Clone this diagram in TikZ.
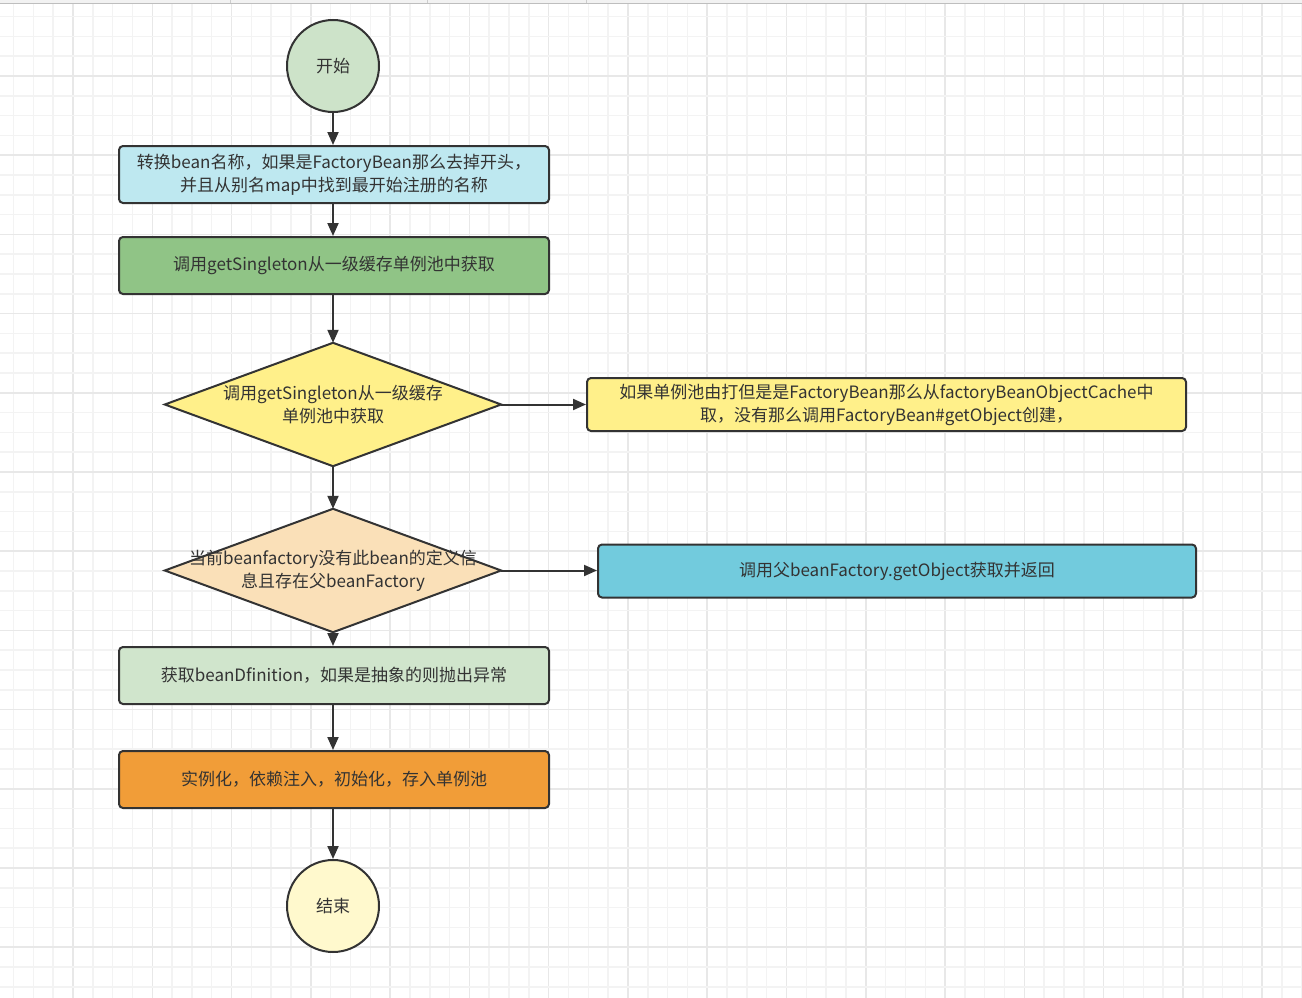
\documentclass[tikz,border=0pt]{standalone}
\usepackage{fontspec}
\setmainfont{Noto Sans CJK SC}
\usetikzlibrary{arrows.meta}
\definecolor{txt}{HTML}{333333}
\definecolor{edge}{HTML}{333333}
\definecolor{gminor}{HTML}{F3F3F3}
\definecolor{gmajor}{HTML}{E8E8E8}
\definecolor{cstart}{HTML}{CDE3C9}
\definecolor{cend}{HTML}{FFF9CD}
\definecolor{cbox1}{HTML}{BEE8F0}
\definecolor{cbox2}{HTML}{90C486}
\definecolor{cyel}{HTML}{FFF08A}
\definecolor{cpeach}{HTML}{FAE0B8}
\definecolor{ccyan}{HTML}{72CBDD}
\definecolor{cbox3}{HTML}{D0E5CC}
\definecolor{cbox4}{HTML}{F19D38}
\definecolor{ctop}{HTML}{F2F2F2}
\definecolor{ctopline}{HTML}{BEBEBE}
\definecolor{csep}{HTML}{CDCDCD}
\begin{document}
\begin{tikzpicture}[x=1pt,y=-1pt,
  every node/.style={text=txt,font=\fontsize{17}{23}\selectfont},
  proc/.style={draw=edge,line width=2pt,rounded corners=4pt,minimum width=430pt,minimum height=57pt,align=center,inner sep=0pt},
  wide/.style={proc,minimum width=599pt,minimum height=53pt},
  term/.style={circle,draw=edge,line width=2pt,minimum size=92pt,inner sep=0pt},
  dbox/.style={rectangle,minimum width=336pt,minimum height=123pt,inner sep=0pt,align=center},
  dshape/.style={draw=edge,line width=2pt},
  arr/.style={draw=edge,line width=2pt,-{Triangle[length=13pt,width=11pt]}}
]
\useasboundingbox (0,0) rectangle (1302,998);
\fill[white] (0,0) rectangle (1302,998);
% grid
\foreach \i in {0,...,66} {
  \pgfmathtruncatemacro{\m}{mod(\i,4)}
  \ifnum\m=0
    \draw[gmajor,line width=1.5pt] ({-6.28+\i*19.82},0) -- ({-6.28+\i*19.82},998);
  \else
    \draw[gminor,line width=1.5pt] ({-6.28+\i*19.82},0) -- ({-6.28+\i*19.82},998);
  \fi
}
\foreach \j in {0,...,51} {
  \pgfmathtruncatemacro{\m}{mod(\j,4)}
  \ifnum\m=0
    \draw[gmajor,line width=1.5pt] (0,{-3.2+\j*19.8}) -- (1302,{-3.2+\j*19.8});
  \else
    \draw[gminor,line width=1.5pt] (0,{-3.2+\j*19.8}) -- (1302,{-3.2+\j*19.8});
  \fi
}
% top strip
\fill[ctop] (0,0) rectangle (1302,3.5);
\draw[ctopline,line width=1pt] (0,3.5) -- (1302,3.5);
\foreach \x in {230,427,586} \draw[csep,line width=1pt] (\x,0) -- (\x,3.5);

% nodes
\node[term,fill=cstart] (start) at (333,66) {开始};
\node[proc,fill=cbox1] (b1) at (334,174.5) {转换bean名称，如果是FactoryBean那么去掉开头，\\并且从别名map中找到最开始注册的名称};
\node[proc,fill=cbox2] (b2) at (334,265.5) {调用getSingleton从一级缓存单例池中获取};
\node[dbox] (d1) at (333,404.5) {};
\draw[dshape,fill=cyel] (d1.north) -- (d1.east) -- (d1.south) -- (d1.west) -- cycle;
\node[align=center] (d1t) at (333,405) {调用getSingleton从一级缓存\\单例池中获取};
\node[wide,fill=cyel] (r1) at (886.5,404.5) {如果单例池由打但是是FactoryBean那么从factoryBeanObjectCache中\\取，没有那么调用FactoryBean\#getObject创建，};
\node[dbox] (d2) at (333,570.5) {};
\draw[dshape,fill=cpeach] (d2.north) -- (d2.east) -- (d2.south) -- (d2.west) -- cycle;
\node[align=center] (d2t) at (333,571) {当前beanfactory没有此bean的定义信\\息且存在父beanFactory};
\node[wide,fill=ccyan,minimum width=598pt] (r2) at (897,571) {调用父beanFactory.getObject获取并返回};
\node[proc,fill=cbox3] (b3) at (334,675.5) {获取beanDfinition，如果是抽象的则抛出异常};
\node[proc,fill=cbox4] (b4) at (334,779.5) {实例化，依赖注入，初始化，存入单例池};
\node[term,fill=cend] (end) at (333,906) {结束};

% connectors
\draw[arr] (start.south) -- (start.south |- b1.north);
\draw[arr] (b1.south -| start.south) -- (start.south |- b2.north);
\draw[arr] (b2.south -| start.south) -- (d1.north);
\draw[arr] (d1.south) -- (d2.north);
\draw[arr] (d1.east) -- (d1.east -| r1.west);
\draw[arr] (d2.east) -- (d2.east -| r2.west);
\draw[arr] (d2.south) -- (d2.south |- b3.north);
\draw[arr] (b3.south -| start.south) -- (start.south |- b4.north);
\draw[arr] (b4.south -| start.south) -- (end.north);
\end{tikzpicture}
\end{document}
